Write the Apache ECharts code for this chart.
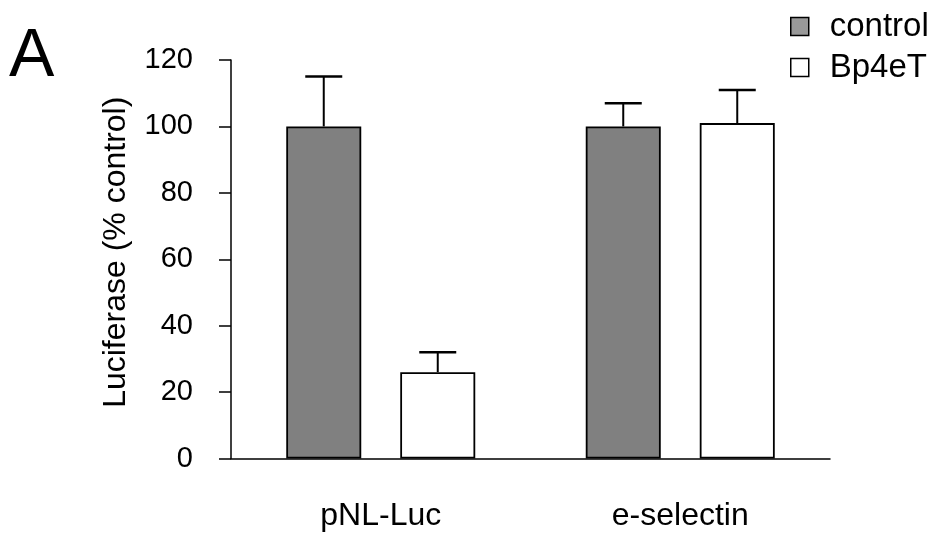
<!DOCTYPE html>
<html>
<head>
<meta charset="utf-8">
<script src="https://cdn.jsdelivr.net/npm/echarts@6/dist/echarts.min.js"></script>
<style>html,body{margin:0;padding:0;background:#fff}#c{width:939px;height:535px}</style>
</head>
<body>
<div id="c"></div>
<script>
const categories = ['pNL-Luc', 'e-selectin'];
const seriesNames = ['control', 'Bp4eT'];
const controlValues = [100, 100];
const controlErrors = [15, 7];
const bp4etValues = [26, 101];
const bp4etErrors = [6, 10];
const yTicks = [0, 20, 40, 60, 80, 100, 120];

const FONT = '"Liberation Sans", Arial, Helvetica, sans-serif';
const BAR_W = 75, BAR_GAP = 39, CAP_W = 37;

const chart = echarts.init(document.getElementById('c'), null, {renderer: 'canvas'});

function errorSeries(values, errors, sign) {
  return {
    type: 'custom',
    silent: true,
    z: 1,
    data: values.map((v, i) => [i, v, v + errors[i]]),
    renderItem: function (params, api) {
      const off = sign * (BAR_W + BAR_GAP) / 2;
      const base = api.coord([api.value(0), api.value(1)]);
      const top = api.coord([api.value(0), api.value(2)]);
      const x = base[0] + off;
      return {
        type: 'group',
        children: [
          {type: 'line', shape: {x1: x, y1: base[1], x2: x, y2: top[1]}, style: {stroke: '#000', lineWidth: 2}},
          {type: 'line', shape: {x1: x - CAP_W / 2, y1: top[1], x2: x + CAP_W / 2, y2: top[1]}, style: {stroke: '#000', lineWidth: 2.5}}
        ]
      };
    }
  };
}

chart.setOption({
  animation: false,
  backgroundColor: '#fff',
  textStyle: {fontFamily: FONT},
  graphic: [{
    type: 'text', left: 9, top: 23,
    style: {text: 'A', font: '68px ' + FONT, fill: '#000'}
  }],
  legend: {
    orient: 'vertical',
    left: 785, top: 5,
    itemWidth: 18, itemHeight: 18,
    itemGap: 8,
    textStyle: {fontSize: 33, color: '#000', fontFamily: FONT, padding: [0, 0, 0, 16]},
    data: [
      {name: 'control', icon: 'rect', itemStyle: {color: '#999', borderColor: '#000', borderWidth: 1.5}},
      {name: 'Bp4eT', icon: 'rect', itemStyle: {color: '#fff', borderColor: '#000', borderWidth: 1.5}}
    ]
  },
  grid: {left: 231, right: 109, top: 60, bottom: 76.5, containLabel: false},
  xAxis: {
    type: 'category',
    data: categories,
    axisLine: {lineStyle: {color: '#000', width: 1.5}},
    axisTick: {alignWithLabel: true, length: 12, lineStyle: {color: '#000', width: 1.5}},
    axisLabel: {fontSize: 32, color: '#000', margin: 42, fontFamily: FONT}
  },
  yAxis: {
    type: 'value',
    min: 0, max: 120, interval: 20,
    name: 'Luciferase (% control)',
    nameLocation: 'middle',
    nameGap: 99,
    nameTextStyle: {fontSize: 32, color: '#000', fontFamily: FONT, padding: [0, 0, 0, 14]},
    axisLine: {show: true, lineStyle: {color: '#000', width: 1.5}},
    axisTick: {show: true, length: 12, lineStyle: {color: '#000', width: 1.5}},
    splitLine: {show: false},
    axisLabel: {fontSize: 29, color: '#000', margin: 38, fontFamily: FONT,
      formatter: v => yTicks.includes(v) ? String(v) : ''}
  },
  series: [
    {
      name: seriesNames[0], type: 'bar', data: controlValues,
      barWidth: BAR_W, barGap: (BAR_GAP / BAR_W * 100) + '%',
      itemStyle: {color: '#808080', borderColor: '#000', borderWidth: 1.8}, z: 2
    },
    {
      name: seriesNames[1], type: 'bar', data: bp4etValues,
      barWidth: BAR_W,
      itemStyle: {color: '#fff', borderColor: '#000', borderWidth: 1.8}, z: 2
    },
    errorSeries(controlValues, controlErrors, -1),
    errorSeries(bp4etValues, bp4etErrors, 1)
  ]
});
</script>
</body>
</html>
